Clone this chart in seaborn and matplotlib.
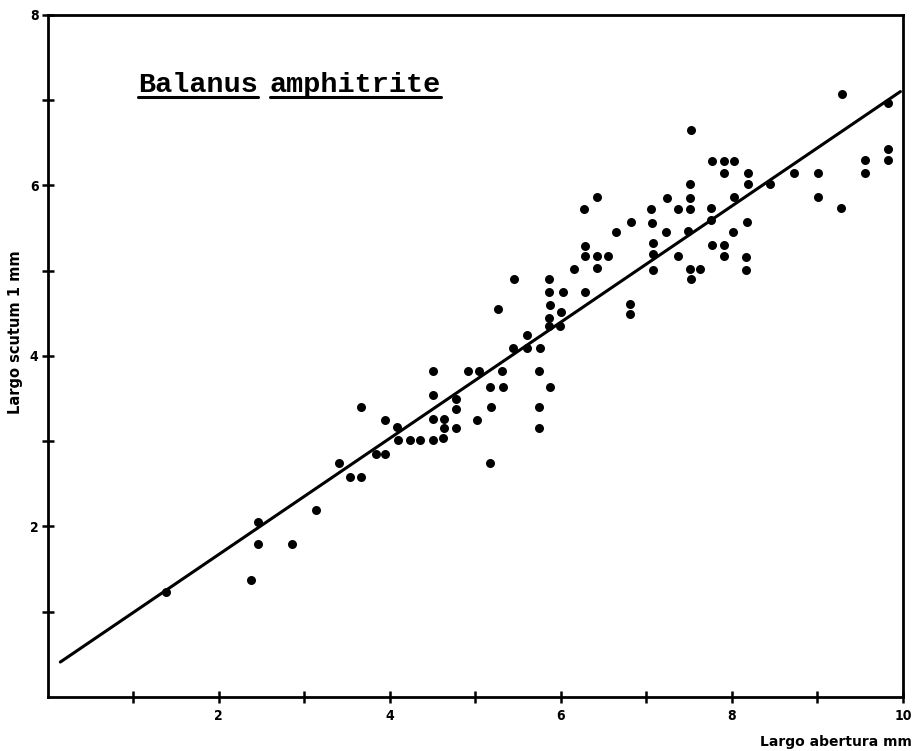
import matplotlib
matplotlib.use("Agg")
import matplotlib.pyplot as plt
from matplotlib.lines import Line2D
import seaborn as sns
import pandas as pd

# ---- data ----
largo_abertura = [
    1.38, 2.46, 2.46, 2.38, 2.86, 3.14, 3.41, 3.54, 3.67, 3.66,
    3.84, 3.95, 3.95, 4.09, 4.10, 4.24, 4.35, 4.51, 4.51, 4.51,
    4.51, 4.63, 4.63, 4.62, 4.77, 4.78, 4.78, 4.91, 5.04, 5.02,
    5.17, 5.18, 5.17, 5.31, 5.32, 5.27, 5.44, 5.60, 5.60, 5.76,
    5.74, 5.74, 5.74, 5.87, 5.45, 5.86, 5.86, 6.02, 6.28, 5.87,
    6.00, 5.86, 5.86, 5.99, 6.81, 6.81, 6.15, 6.42, 6.28, 6.28,
    6.42, 6.55, 6.64, 6.82, 6.27, 6.42, 7.06, 7.07, 7.08, 7.08,
    7.08, 7.23, 7.24, 7.37, 7.37, 7.49, 7.51, 7.52, 7.63, 7.51,
    7.51, 7.51, 7.52, 7.75, 7.76, 7.77, 7.77, 7.91, 8.03, 7.91,
    7.91, 7.91, 8.01, 8.03, 8.18, 8.17, 8.17, 8.19, 8.19, 8.45,
    8.73, 9.01, 9.01, 9.27, 9.29, 9.55, 9.56, 9.82, 9.82, 9.82,
]
largo_scutum = [
    1.23, 2.05, 1.79, 1.37, 1.79, 2.19, 2.74, 2.58, 2.58, 3.40,
    2.85, 2.85, 3.25, 3.17, 3.01, 3.01, 3.01, 3.01, 3.26, 3.54,
    3.82, 3.26, 3.15, 3.04, 3.49, 3.38, 3.15, 3.82, 3.82, 3.25,
    3.64, 3.40, 2.74, 3.82, 3.64, 4.55, 4.09, 4.25, 4.09, 4.09,
    3.82, 3.40, 3.15, 3.64, 4.90, 4.90, 4.75, 4.75, 4.75, 4.60,
    4.51, 4.45, 4.35, 4.35, 4.61, 4.49, 5.02, 5.03, 5.17, 5.29,
    5.17, 5.17, 5.45, 5.57, 5.72, 5.86, 5.72, 5.56, 5.32, 5.19,
    5.01, 5.45, 5.85, 5.72, 5.17, 5.46, 5.02, 4.90, 5.02, 5.72,
    5.85, 6.02, 6.65, 5.59, 5.73, 5.30, 6.28, 6.28, 6.28, 6.14,
    5.30, 5.17, 5.45, 5.86, 5.57, 5.16, 5.01, 6.14, 6.02, 6.01,
    6.14, 6.14, 5.86, 5.73, 7.07, 6.30, 6.14, 6.43, 6.30, 6.97,
]
line_abertura = [0.15, 9.97]
line_scutum = [0.41, 7.10]

x_ticks = [1, 2, 3, 4, 5, 6, 7, 8, 9, 10]
x_tick_labels = ["", "2", "", "4", "", "6", "", "8", "", "10"]
y_ticks = [1, 2, 3, 4, 5, 6, 7, 8]
y_tick_labels = ["", "2", "", "4", "", "6", "", "8"]
title_words = ["Balanus", "amphitrite"]
x_label = "Largo abertura mm"
y_label = "Largo scutum 1 mm"

# ---- figure ----
sns.set_theme(style="white")
plt.rcParams['font.family'] = ['DejaVu Sans']

W, H = 918, 751
fig = plt.figure(figsize=(W / 100, H / 100), dpi=100)
fig.patch.set_facecolor("white")
ax = fig.add_axes([47.5 / W, 54 / H, (903 - 47.5) / W, (697 - 14.8) / H])
ax.set_facecolor("white")

df = pd.DataFrame({"abertura": largo_abertura, "scutum": largo_scutum})
sns.scatterplot(data=df, x="abertura", y="scutum", ax=ax, color="black",
                s=42, linewidth=0, zorder=3)
line_df = pd.DataFrame({"abertura": line_abertura, "scutum": line_scutum})
sns.lineplot(data=line_df, x="abertura", y="scutum", ax=ax, color="black",
             linewidth=2.2, zorder=2)

ax.set_xlim(0, 10)
ax.set_ylim(0, 8)
ax.set_xticks(x_ticks)
ax.set_xticklabels(x_tick_labels)
ax.set_yticks(y_ticks)
ax.set_yticklabels(y_tick_labels)
ax.set_xlabel("")
ax.set_ylabel("")

for sp in ax.spines.values():
    sp.set_visible(True)
    sp.set_color("black")
    sp.set_linewidth(2.0)

ax.tick_params(axis="both", which="major", direction="inout", length=9,
               width=1.8, color="black", labelcolor="black",
               bottom=True, left=True, top=False, right=False)
ax.tick_params(axis="x", pad=4)
ax.tick_params(axis="y", pad=2)
for lab in ax.get_xticklabels() + ax.get_yticklabels():
    lab.set_fontweight("bold")
    lab.set_fontsize(10)
    lab.set_fontstretch("condensed")

fig.text(912 / W, 1 - 742 / H, x_label, ha="right", va="center",
         fontsize=10, fontweight="bold", color="black")
fig.text(16 / W, 1 - 332 / H, y_label, ha="center", va="center",
         rotation=90, fontsize=10.5, fontweight="bold", color="black")

# title words in typewriter style, each underlined
t1 = fig.text(138 / W, 1 - 92 / H, title_words[0], ha="left", va="baseline",
              fontsize=20.5, family="Liberation Mono", fontweight="bold",
              color="black")
fig.canvas.draw()
r = fig.canvas.get_renderer()
bb1 = t1.get_window_extent(r)
gap = 12
t2 = fig.text((bb1.x1 + gap) / W, 1 - 92 / H, title_words[1], ha="left",
              va="baseline", fontsize=20.5, family="Liberation Mono",
              fontweight="bold", color="black")
fig.canvas.draw()
bb2 = t2.get_window_extent(r)
uy = (H - 97) / H
for bb in (bb1, bb2):
    fig.add_artist(Line2D([bb.x0 / W, bb.x1 / W], [uy, uy], color="black",
                          linewidth=2.2, transform=fig.transFigure))

fig.savefig("out.png", dpi=100, facecolor="white")
